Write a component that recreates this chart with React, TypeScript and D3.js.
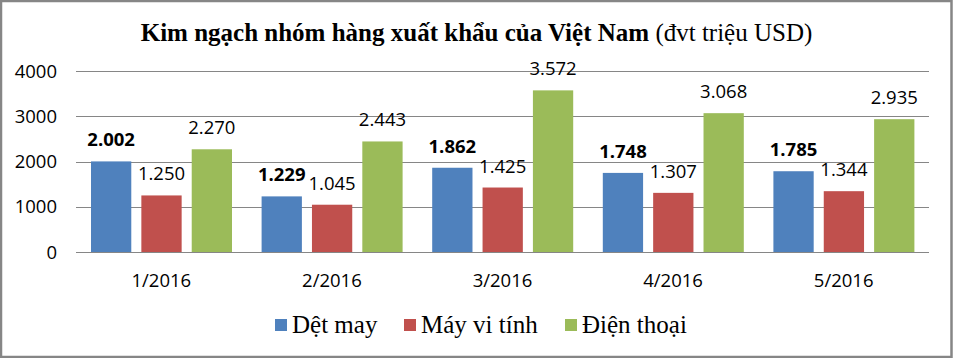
import React from "react";
import * as d3 from "d3";

const categories = ["1/2016", "2/2016", "3/2016", "4/2016", "5/2016"];
const seriesNames = ["Dệt may", "Máy vi tính", "Điện thoại"];
const detMay = [2002, 1229, 1862, 1748, 1785];
const mayViTinh = [1250, 1045, 1425, 1307, 1344];
const dienThoai = [2270, 2443, 3572, 3068, 2935];
const yTicks = [0, 1000, 2000, 3000, 4000];
const titleBold = "Kim ngạch nhóm hàng xuất khẩu của Việt Nam";
const titleNormal = " (đvt triệu USD)";

const W = 953;
const H = 358;
const colors = ["#4F81BD", "#C0504D", "#9BBB59"];
const sans = "'Open Sans', 'Noto Sans', sans-serif";
const serif = "'Liberation Serif', 'Times New Roman', serif";

const vn = d3.formatLocale({ decimal: ",", thousands: ".", grouping: [3], currency: ["", ""] });
const fmt = vn.format(",d");

export default function App() {
  const series = [detMay, mayViTinh, dienThoai];
  const x0 = d3.scaleBand<string>().domain(categories).range([76, 929]).padding(0);
  const x1 = d3
    .scaleBand<number>()
    .domain([0, 1, 2])
    .range([15, 156])
    .paddingInner(0.2)
    .paddingOuter(0);
  const y = d3.scaleLinear().domain([0, 4000]).range([252, 71]);
  const legendX = [275, 404, 565];

  return (
    <svg
      width={W}
      height={H}
      style={{ position: "absolute", left: 0, top: 0, background: "#fff" }}
    >
      <rect x={1} y={1} width={W - 2.5} height={H - 2} fill="#fff" stroke="#868686" strokeWidth={2.5} />
      <text
        x={W / 2}
        y={41}
        textAnchor="middle"
        fontFamily={serif}
        fontSize={25}
        fill="#000"
      >
        <tspan fontWeight="bold">{titleBold}</tspan>
        <tspan>{titleNormal}</tspan>
      </text>

      {yTicks.map((t) => (
        <g key={t}>
          <line x1={76} x2={929} y1={Math.round(y(t)) + 0.5} y2={Math.round(y(t)) + 0.5} stroke="#868686" strokeWidth={1} />
          <text
            x={57}
            y={y(t)}
            dy="0.36em"
            textAnchor="end"
            fontFamily={sans}
            fontSize={18.5}
            fill="#000"
          >
            {t}
          </text>
        </g>
      ))}

      {categories.map((c, i) => (
        <g key={c} transform={`translate(${x0(c)},0)`}>
          {series.map((s, j) => (
            <rect
              key={j}
              x={x1(j)}
              y={y(s[i])}
              width={x1.bandwidth()}
              height={y(0) - y(s[i])}
              fill={colors[j]}
            />
          ))}
          {series.map((s, j) => (
            <text
              key={"l" + j}
              x={(x1(j) as number) + x1.bandwidth() / 2}
              y={y(s[i]) - 15}
              textAnchor="middle"
              fontFamily={sans}
              fontSize={18.5}
              fontWeight={j === 0 ? "bold" : "normal"}
              fill="#000"
            >
              {fmt(s[i])}
            </text>
          ))}
          <text
            x={x0.bandwidth() / 2}
            y={287}
            textAnchor="middle"
            fontFamily={sans}
            fontSize={18.5}
            fill="#000"
          >
            {c}
          </text>
        </g>
      ))}

      {seriesNames.map((n, j) => (
        <g key={n} transform={`translate(${legendX[j]},0)`}>
          <rect x={0} y={319} width={12} height={12} fill={colors[j]} />
          <text x={17} y={333} fontFamily={serif} fontSize={25} fill="#000">
            {n}
          </text>
        </g>
      ))}
    </svg>
  );
}
